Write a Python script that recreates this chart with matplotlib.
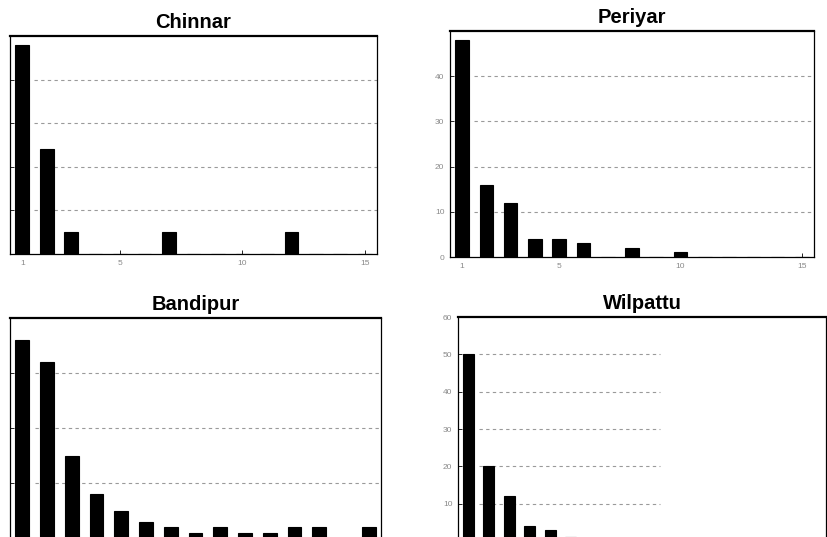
import matplotlib
matplotlib.use("Agg")
import matplotlib.pyplot as plt
import numpy as np

plt.rcParams['font.family'] = ['Liberation Sans', 'DejaVu Sans']

# ---- data ----
chinnar_x = list(range(1, 16))
chinnar_y = [48, 24, 5, 0, 0, 0, 5, 0, 0, 0, 0, 5, 0, 0, 0]

periyar_x = list(range(1, 16))
periyar_y = [48, 16, 12, 4, 4, 3, 0, 2, 0, 1, 0, 0, 0, 0, 0]

bandipur_x = list(range(1, 16))
bandipur_y = [36, 32, 15, 8, 5, 3, 2, 1, 2, 1, 1, 2, 2, 0, 2]

wilpattu_x = list(range(1, 19))
wilpattu_y = [50, 20, 12, 4, 3, 1, 0, 0, 0, 0, 0, 0, 0, 0, 0, 0, 0, 0]

titles = ["Chinnar", "Periyar", "Bandipur", "Wilpattu"]
xticks = [1, 5, 10, 15]

W, H = 828, 537
fig = plt.figure(figsize=(W / 100, H / 100), dpi=100)


def rect(l, r, t, b):
    return [l / W, 1 - b / H, (r - l) / W, (b - t) / H]


def panel(box, x, y, title, ylim, yticks, xlim, grid_frac=1.0,
          show_ylabels=True, show_xlabels=True, hide_zero=False):
    ax = fig.add_axes(rect(*box))
    ax.bar(x, y, width=0.56, color='black', edgecolor='black', linewidth=0.8,
           zorder=3)
    ax.set_xlim(*xlim)
    ax.set_ylim(*ylim)
    ax.set_xticks(xticks)
    ax.set_yticks(yticks)
    for v in yticks:
        if v == 0 or v >= ylim[1]:
            continue
        ax.hlines(v, xlim[0] + 1.0, xlim[0] + (xlim[1] - xlim[0]) * grid_frac,
                  colors='#9a9a9a', linestyles=(0, (3, 3)), linewidth=0.8,
                  zorder=1)
    ax.tick_params(axis='both', direction='in', length=3, width=0.6,
                   labelsize=6, labelcolor='#8a8a8a', pad=4)
    if not show_ylabels:
        ax.set_yticklabels([])
    elif hide_zero:
        ax.set_yticklabels(['' if v == 0 else str(v) for v in yticks])
    if not show_xlabels:
        ax.set_xticklabels([])
    for s in ['left', 'bottom', 'right']:
        ax.spines[s].set_linewidth(0.9)
    ax.spines['top'].set_linewidth(1.6)
    ax.set_title(title, fontsize=14.5, fontweight='bold', pad=6)
    return ax


panel((10, 377, 36, 254), chinnar_x, chinnar_y, titles[0], (0, 50),
      [0, 10, 20, 30, 40], (0.5, 15.5), show_ylabels=False)
panel((450, 814, 31, 257), periyar_x, periyar_y, titles[1], (0, 50),
      [0, 10, 20, 30, 40], (0.5, 15.5))
panel((10, 381, 318, 538), bandipur_x, bandipur_y, titles[2], (0, 40),
      [0, 10, 20, 30], (0.5, 15.5), show_ylabels=False, show_xlabels=False)
panel((458, 826, 317, 541), wilpattu_x, wilpattu_y, titles[3], (0, 60),
      [0, 10, 20, 30, 40, 50, 60], (0.5, 18.45), grid_frac=0.55,
      show_xlabels=False, hide_zero=True)

fig.savefig("out.png", dpi=100)
